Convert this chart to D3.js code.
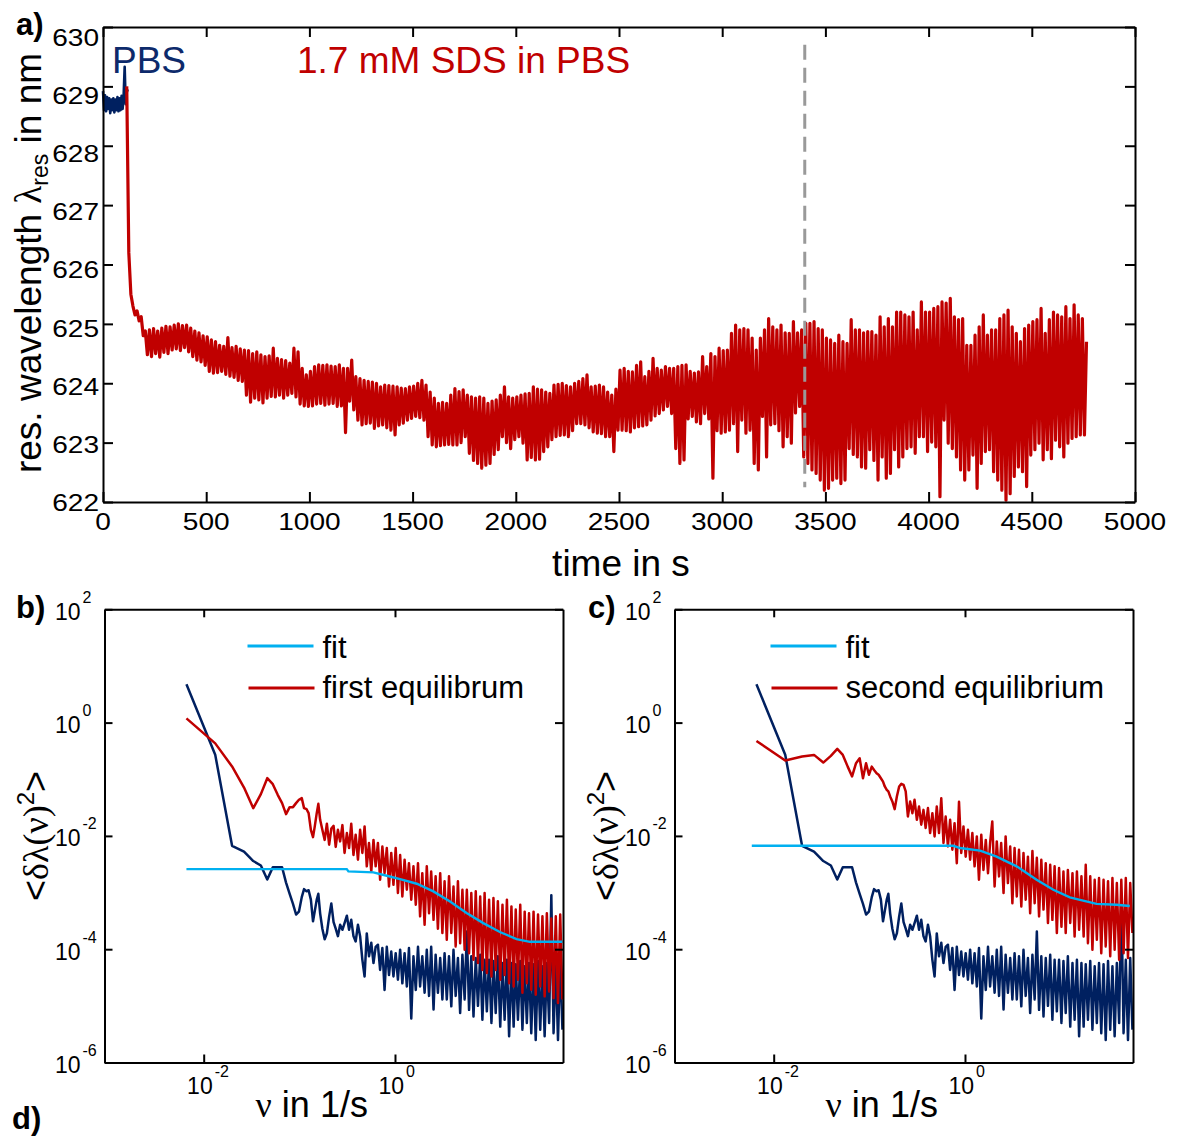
<!DOCTYPE html>
<html>
<head>
<meta charset="utf-8">
<script src="https://cdn.jsdelivr.net/npm/d3@7"></script>
<style>
  body { margin: 0; background: #fff; }
  svg { display: block; font-family: "Liberation Sans", Arial, sans-serif; }
</style>
</head>
<body>
<svg id="fig" width="1177" height="1136"></svg>
<script>
// ---------- (a) resonance wavelength vs time ----------
const timeTicks = [0, 500, 1000, 1500, 2000, 2500, 3000, 3500, 4000, 4500, 5000];
const wlTicks = [622, 623, 624, 625, 626, 627, 628, 629, 630];

// PBS baseline, sampled every 5 s from t = 0 s
const pbsStart = 0, pbsStep = 5;
const pbsShift = [
  628.92, 628.6, 628.85, 628.58, 628.82, 628.62, 628.8, 628.55, 628.78, 628.6,
  628.8, 628.56, 628.78, 628.6, 628.82, 628.58, 628.8, 628.6, 628.84, 628.62,
  628.85, 629.33, 628.7, 628.9, 628.95
];

// 1.7 mM SDS in PBS, sampled every 10 s from t = 115 s
const sdsStart = 115, sdsStep = 10;
const sdsShift = [
  629.0, 626.2, 625.5, 625.3, 625.15, 625.22, 625.05, 625.12, 624.8, 624.88,
  624.48, 624.9, 624.45, 624.92, 624.5, 624.88, 624.44, 624.93, 624.52, 624.96,
  624.5, 624.95, 624.56, 624.98, 624.58, 625.0, 624.55, 624.97, 624.6, 624.98,
  624.53, 624.93, 624.45, 624.88, 624.39, 624.85, 624.36, 624.8, 624.3, 624.78,
  624.2, 624.73, 624.17, 624.7, 624.18, 624.64, 624.2, 624.62, 624.15, 624.77,
  624.12, 624.6, 624.1, 624.62, 624.05, 624.58, 624.03, 624.56, 623.8, 624.55,
  623.68, 624.5, 623.75, 624.53, 623.72, 624.48, 623.67, 624.45, 623.75, 624.46,
  623.78, 624.59, 623.77, 624.42, 623.8, 624.4, 623.75, 624.38, 623.8, 624.34,
  623.83, 624.59, 623.77, 624.53, 623.65, 624.25, 623.62, 624.14, 623.61, 624.2,
  623.62, 624.28, 623.65, 624.31, 623.66, 624.3, 623.63, 624.31, 623.65, 624.29,
  623.66, 624.28, 623.61, 624.31, 623.62, 624.25, 623.17, 624.25, 623.7, 624.39,
  623.55, 624.11, 623.38, 624.08, 623.3, 624.05, 623.32, 624.03, 623.33, 624.02,
  623.24, 624.0, 623.28, 623.94, 623.3, 623.97, 623.25, 623.96, 623.21, 623.95,
  623.13, 623.94, 623.3, 623.92, 623.33, 623.91, 623.38, 623.94, 623.41, 623.95,
  623.44, 624.0, 623.42, 624.05, 623.38, 623.97, 623.1, 623.85, 622.96, 623.75,
  622.93, 623.66, 622.95, 623.68, 622.96, 623.66, 622.97, 623.8, 622.96, 623.91,
  622.96, 623.86, 623.0, 623.89, 623.1, 623.8, 622.82, 623.77, 622.7, 623.75,
  622.65, 623.77, 622.57, 623.75, 622.62, 623.66, 622.65, 623.7, 622.8, 623.72,
  622.88, 623.8, 623.1, 623.94, 623.0, 623.77, 622.9, 623.75, 623.05, 623.77,
  623.1, 623.8, 622.99, 623.82, 622.71, 623.83, 622.75, 623.94, 622.71, 623.9,
  622.72, 623.89, 622.85, 623.85, 622.93, 623.83, 623.05, 623.97, 623.1, 623.98,
  623.12, 624.0, 623.13, 623.96, 623.1, 623.94, 623.2, 624.0, 623.32, 624.03,
  623.32, 624.08, 623.3, 624.14, 623.25, 623.94, 623.18, 623.95, 623.16, 623.97,
  623.15, 623.94, 623.1, 623.85, 623.1, 623.8, 622.85, 623.9, 623.21, 624.22,
  623.21, 624.25, 623.2, 624.2, 623.18, 624.19, 623.25, 624.3, 623.27, 624.36,
  623.28, 624.11, 623.3, 624.2, 623.38, 624.42, 623.45, 624.25, 623.49, 624.22,
  623.55, 624.28, 623.61, 624.25, 623.49, 624.25, 622.9, 624.28, 622.65, 624.3,
  622.71, 624.31, 623.4, 624.2, 623.44, 624.17, 623.35, 624.19, 623.32, 624.45,
  623.49, 624.28, 623.4, 624.5, 622.4, 624.45, 623.2, 624.59, 623.16, 624.55,
  623.18, 624.56, 623.21, 624.84, 623.32, 624.98, 622.85, 624.9, 623.38, 624.92,
  623.16, 624.9, 623.21, 624.76, 622.65, 624.56, 622.54, 624.76, 623.44, 624.9,
  622.76, 625.09, 623.3, 624.95, 623.32, 624.9, 623.2, 624.98, 622.93, 624.85,
  623.1, 624.84, 622.99, 625.04, 623.5, 624.85, 623.61, 624.9, 622.76, 625.01,
  622.65, 625.01, 622.54, 625.04, 622.48, 624.92, 622.37, 624.9, 622.2, 624.76,
  622.23, 624.73, 622.37, 624.67, 622.4, 624.81, 622.31, 624.7, 622.37, 624.67,
  622.9, 625.07, 622.8, 624.9, 622.76, 624.9, 622.59, 624.85, 622.57, 624.87,
  622.88, 624.87, 622.7, 624.81, 622.37, 625.12, 622.76, 624.95, 622.4, 625.09,
  622.48, 624.95, 622.88, 625.2, 622.59, 625.2, 622.76, 625.15, 622.9, 625.12,
  622.93, 625.2, 622.82, 624.9, 623.1, 625.37, 623.1, 625.2, 622.85, 625.2,
  623.01, 625.26, 622.93, 625.29, 622.09, 625.37, 623.38, 625.35, 622.99, 625.43,
  622.9, 625.12, 622.76, 625.07, 622.54, 625.09, 622.37, 624.64, 622.54, 624.64,
  622.79, 624.81, 622.23, 624.95, 622.65, 625.15, 622.85, 624.81, 622.88, 624.9,
  622.51, 624.9, 622.37, 625.09, 622.2, 625.15, 622.03, 625.23, 622.14, 624.95,
  622.43, 624.84, 622.59, 624.7, 622.51, 624.92, 622.26, 624.98, 622.79, 625.04,
  622.88, 625.07, 622.99, 625.26, 622.71, 624.84, 622.88, 625.07, 622.73, 625.2,
  623.04, 625.15, 622.93, 625.12, 622.76, 625.29, 622.99, 625.09, 623.07, 625.32,
  623.1, 625.15, 623.13, 625.09, 623.13, 624.7
];

// second equilibrium starts here (dashed marker)
const markerTime = 3400;
const markerSpan = [629.7, 622.25];

// ---------- (b), (c) spectral density ----------
const nuTicks = [1e-2, 1e0];
const psdTicks = [1e2, 1e0, 1e-2, 1e-4, 1e-6];

// frequency grid in 1/s shared by the spectra
const nu = [
  0.0066, 0.0132, 0.0198, 0.0264, 0.033, 0.0396, 0.0462, 0.0528, 0.0594, 0.066,
  0.0726, 0.0792, 0.0858, 0.0924, 0.099, 0.106, 0.112, 0.119, 0.125, 0.132,
  0.139, 0.145, 0.152, 0.158, 0.165, 0.174, 0.184, 0.194, 0.205, 0.216,
  0.228, 0.24, 0.253, 0.267, 0.282, 0.297, 0.314, 0.331, 0.349, 0.368,
  0.388, 0.41, 0.432, 0.456, 0.481, 0.507, 0.535, 0.565, 0.596, 0.628,
  0.663, 0.699, 0.738, 0.778, 0.821, 0.866, 0.914, 0.964, 1.017, 1.073,
  1.132, 1.194, 1.26, 1.33, 1.40, 1.48, 1.56, 1.65, 1.74, 1.83,
  1.93, 2.04, 2.15, 2.27, 2.39, 2.53, 2.66, 2.81, 2.97, 3.13,
  3.30, 3.48, 3.67, 3.88, 4.09, 4.31, 4.55, 4.80, 5.07, 5.35,
  5.64, 5.95, 6.28, 6.62, 6.99, 7.37, 7.78, 8.20, 8.65, 9.13,
  9.63, 10.2, 10.7, 11.3, 11.9, 12.6, 13.3, 14.0, 14.8, 15.6,
  16.5, 17.4, 18.3, 19.3, 20.4, 21.5, 22.7, 23.9, 25.2, 26.6,
  28.1, 29.6, 31.3, 33.0, 34.8, 36.7, 38.7, 40.9, 43.1, 45.5,
  48.0, 50.6, 53.4, 56.3
];

// PBS reference spectrum (shown in both panels)
const psdPBS = [
  4.75, 0.27, 6.7e-3, 5.3e-3, 3.6e-3, 3.0e-3, 1.7e-3, 2.8e-3, 2.8e-3, 2.8e-3,
  1.5e-3, 9.5e-4, 6.3e-4, 4.1e-4, 4.6e-4, 8.3e-4, 1.15e-3, 1.05e-3, 1.1e-3, 7.5e-4,
  3.1e-4, 4.7e-4, 7.5e-4, 9.5e-4, 4.3e-4, 2.3e-4, 1.5e-4, 1.9e-4, 3.8e-4, 6.4e-4,
  3.0e-4, 2.3e-4, 1.7e-4, 2.7e-4, 2.2e-4, 2.9e-4, 3.9e-4, 2.2e-4, 3.3e-4, 1.7e-4,
  1.37e-4, 2.7e-4, 1.7e-4, 6.5e-5, 3.3e-5, 1.9e-4, 7.5e-5, 1.3e-4, 5.7e-5, 1.1e-4,
  1.2e-4, 4.3e-5, 1.05e-4, 1.9e-5, 1.1e-4, 3.5e-5, 9.1e-5, 3.3e-5, 8.5e-5, 2.9e-5,
  9.8e-5, 2.5e-5, 8.5e-5, 2.2e-5, 1.05e-4, 6.0e-6, 7.5e-5, 1.9e-5, 1.1e-4, 2.2e-5,
  7.5e-5, 1.7e-5, 9.8e-5, 1.5e-5, 1.1e-4, 8.6e-6, 8.0e-5, 1.7e-5, 7.0e-5, 1.3e-5,
  8.5e-5, 1.3e-5, 7.5e-5, 9.8e-6, 9.8e-5, 1.5e-5, 7.0e-5, 7.5e-6, 8.0e-5, 1.3e-5,
  2.06e-4, 8.5e-6, 7.5e-5, 6.5e-6, 7.0e-5, 1.0e-5, 8.0e-5, 5.7e-6, 6.5e-5, 8.0e-6,
  6.5e-5, 5.0e-6, 6.2e-5, 7.5e-6, 7.5e-5, 4.3e-6, 5.7e-5, 5.7e-6, 6.5e-5, 2.9e-6,
  5.7e-5, 4.3e-6, 5.4e-5, 5.7e-6, 6.2e-5, 3.8e-6, 5.0e-5, 5.0e-6, 5.7e-5, 3.3e-6,
  5.4e-5, 2.5e-6, 6.2e-5, 3.8e-6, 5.0e-5, 2.9e-6, 5.7e-5, 5.0e-6, 9.0e-4, 3.3e-6,
  6.5e-5, 2.5e-6, 7.0e-5, 3.8e-6
];

// first equilibrium spectrum
const psdFirst = [
  1.19, 0.43, 0.168, 0.0714, 0.0309, 0.0546, 0.1045, 0.0819, 0.0531, 0.0379,
  0.0242, 0.0322, 0.0322, 0.0379, 0.0434, 0.0464, 0.0309, 0.0296, 0.0252, 0.0128,
  0.0095, 0.0147, 0.0252, 0.0368, 0.0192, 1.28e-2, 8.5e-3, 1.64e-2, 7.0e-3, 1.35e-2,
  1.5e-2, 6.4e-3, 1.28e-2, 8.0e-3, 1.55e-2, 5.0e-3, 1.12e-2, 6.1e-3, 1.64e-2, 4.6e-3,
  1.05e-2, 3.8e-3, 1.28e-2, 5.0e-3, 1.47e-2, 2.9e-3, 7.5e-3, 2.35e-3, 8.5e-3, 2.9e-3,
  7.5e-3, 1.68e-3, 6.5e-3, 2.2e-3, 6.1e-3, 1.28e-3, 5.0e-3, 1.37e-3, 6.1e-3, 9.8e-4,
  4.6e-3, 8.5e-4, 3.8e-3, 1.12e-3, 3.3e-3, 7.5e-4, 2.9e-3, 6.1e-4, 3.3e-3, 3.8e-4,
  2.2e-3, 2.7e-4, 2.9e-3, 4.3e-4, 2.35e-3, 3.3e-4, 1.93e-3, 2.3e-4, 2.2e-3, 1.93e-4,
  1.58e-3, 1.47e-4, 1.93e-3, 1.93e-4, 1.28e-3, 1.12e-4, 1.58e-3, 1.28e-4, 1.12e-3, 9.8e-5,
  1.12e-3, 8.5e-5, 9.8e-4, 6.5e-5, 1.05e-3, 5.7e-5, 8.5e-4, 4.3e-5, 9.8e-4, 3.8e-5,
  7.5e-4, 3.3e-5, 8.0e-4, 4.3e-5, 7.0e-4, 2.9e-5, 6.1e-4, 3.5e-5, 7.5e-4, 2.5e-5,
  5.7e-4, 2.2e-5, 5.0e-4, 2.9e-5, 6.1e-4, 1.7e-5, 4.6e-4, 2.5e-5, 4.3e-4, 1.93e-5,
  4.6e-4, 1.58e-5, 4.1e-4, 2.2e-5, 3.8e-4, 1.47e-5, 4.3e-4, 1.8e-5, 3.5e-4, 1.37e-5,
  3.8e-4, 1.12e-5, 4.1e-4, 1.29e-5
];

// second equilibrium spectrum
const psdSecond = [
  0.475, 0.214, 0.252, 0.269, 0.197, 0.258, 0.343, 0.269, 0.167, 0.112,
  0.192, 0.235, 0.104, 0.192, 0.12, 0.167, 0.146, 0.128, 0.12, 0.104,
  0.091, 0.0745, 0.065, 0.061, 0.0497, 0.0405, 0.0297, 0.0497, 0.0745, 0.0828,
  0.0794, 0.061, 0.022, 0.0405, 0.0252, 0.0434, 0.0192, 0.033, 0.0158, 0.0288,
  1.38e-2, 3.1e-2, 1.12e-2, 2.52e-2, 9.8e-3, 3.3e-2, 1.12e-2, 4.6e-2, 7.5e-3, 2.2e-2,
  6.5e-3, 1.92e-2, 5.7e-3, 1.68e-2, 3.3e-3, 4.0e-2, 5.0e-3, 1.47e-2, 4.3e-3, 1.28e-2,
  3.8e-3, 1.12e-2, 2.9e-3, 9.8e-3, 1.68e-3, 1.05e-2, 2.5e-3, 8.5e-3, 2.2e-3, 7.5e-3,
  1.8e-2, 1.28e-3, 8.0e-3, 1.93e-3, 7.5e-3, 9.8e-4, 9.8e-3, 1.47e-3, 6.5e-3, 6.5e-4,
  6.1e-3, 8.5e-4, 5.7e-3, 5.7e-4, 5.0e-3, 7.5e-4, 4.3e-3, 4.3e-4, 5.4e-3, 6.5e-4,
  4.1e-3, 3.8e-4, 3.8e-3, 5.0e-4, 3.3e-3, 2.9e-4, 3.1e-3, 3.3e-4, 2.9e-3, 1.93e-4,
  2.7e-3, 2.5e-4, 2.35e-3, 1.93e-4, 2.5e-3, 2.9e-4, 2.2e-3, 1.68e-4, 2.35e-3, 2.2e-4,
  1.93e-3, 1.68e-4, 3.1e-3, 1.28e-4, 1.93e-3, 9.8e-5, 1.68e-3, 1.47e-4, 1.8e-3, 8.5e-5,
  1.68e-3, 1.12e-4, 1.58e-3, 7.5e-5, 1.8e-3, 9.8e-5, 1.47e-3, 6.5e-5, 1.68e-3, 8.5e-5,
  1.8e-3, 7.0e-5, 1.47e-3, 1.93e-4
];

// fitted spectra
const fitFirstNu  = [0.0066, 0.313, 0.326, 0.594, 0.82, 1.13, 1.69, 2.52, 3.76, 5.61, 8.38, 12.5, 18.7, 25.7, 56.3];
const fitFirstVal = [2.59e-3, 2.59e-3, 2.36e-3, 2.27e-3, 1.98e-3, 1.73e-3, 1.43e-3, 1.05e-3, 6.98e-4, 4.35e-4, 2.89e-4, 2.01e-4, 1.51e-4, 1.35e-4, 1.35e-4];
const fitSecondNu  = [0.0059, 0.757, 0.888, 1.44, 2.14, 3.47, 5.61, 8.38, 12.5, 17.2, 23.7, 38.4, 52.8];
const fitSecondVal = [6.7e-3, 6.7e-3, 6.1e-3, 5.5e-3, 4.3e-3, 2.9e-3, 1.68e-3, 1.12e-3, 8.2e-4, 7.2e-4, 6.3e-4, 6.1e-4, 5.8e-4];

// ---------- drawing ----------
const RED = "#c00000", NAVY = "#002060", CYAN = "#00b0f0", GREY = "#999999";
const fig = d3.select("#fig");

function styleAxis(g) {
  g.selectAll(".domain").attr("stroke", "#000").attr("stroke-width", 2);
  g.selectAll(".tick line").attr("stroke", "#000").attr("stroke-width", 2);
}

// ----- panel (a) -----
const xA = d3.scaleLinear().domain([0, 5000]).range([103, 1135]);
const yA = d3.scaleLinear().domain([622, 630]).range([502, 27]);
const gA = fig.append("g");

const lineA = d3.line().x(d => xA(d[0])).y(d => yA(d[1]));
const pbsPts = pbsShift.map((v, i) => [pbsStart + i * pbsStep, v]);
const sdsPts = sdsShift.map((v, i) => [sdsStart + i * sdsStep, v]);

gA.append("path").datum(pbsPts).attr("d", lineA)
  .attr("fill", "none").attr("stroke", NAVY).attr("stroke-width", 2.6).attr("stroke-linejoin", "round");
gA.append("path").datum(sdsPts).attr("d", lineA)
  .attr("fill", "none").attr("stroke", RED).attr("stroke-width", 3.2).attr("stroke-linejoin", "round");
gA.append("line")
  .attr("x1", xA(markerTime)).attr("x2", xA(markerTime))
  .attr("y1", yA(markerSpan[0])).attr("y2", yA(markerSpan[1]))
  .attr("stroke", GREY).attr("stroke-width", 3).attr("stroke-dasharray", "15,8");

gA.append("g").attr("transform", "translate(0,502)")
  .call(d3.axisBottom(xA).tickValues(timeTicks).tickSize(-10).tickSizeOuter(0).tickFormat(""))
  .call(styleAxis);
gA.append("g").attr("transform", "translate(0,27)")
  .call(d3.axisTop(xA).tickValues(timeTicks).tickSize(-10).tickSizeOuter(0).tickFormat(""))
  .call(styleAxis);
gA.append("g").attr("transform", "translate(103,0)")
  .call(d3.axisLeft(yA).tickValues(wlTicks).tickSize(-10).tickSizeOuter(0).tickFormat(""))
  .call(styleAxis);
gA.append("g").attr("transform", "translate(1135,0)")
  .call(d3.axisRight(yA).tickValues(wlTicks).tickSize(-10).tickSizeOuter(0).tickFormat(""))
  .call(styleAxis);

gA.selectAll("text.xt").data(timeTicks).enter().append("text")
  .attr("class", "xt")
  .attr("transform", d => `translate(${xA(d)},530) scale(1.17,1)`)
  .attr("text-anchor", "middle").attr("font-size", 24).text(d => d);
gA.selectAll("text.yt").data(wlTicks).enter().append("text")
  .attr("class", "yt")
  .attr("transform", d => `translate(99,${yA(d) + 18.5 - 1.15 * (630 - d)}) scale(1.17,1)`)
  .attr("text-anchor", "end").attr("font-size", 24).text(d => d);

gA.append("text").attr("x", 621).attr("y", 576).attr("text-anchor", "middle")
  .attr("font-size", 37).text("time in s");

const yLabA = gA.append("text").attr("transform", "translate(41,263) rotate(-90)")
  .attr("text-anchor", "middle").attr("font-size", 37);
yLabA.append("tspan").text("res. wavelength  ");
yLabA.append("tspan").attr("font-family", "'Liberation Serif', serif").text("λ");
yLabA.append("tspan").attr("font-size", 23).attr("dy", 7).text("res");
yLabA.append("tspan").attr("dy", -7).text(" in nm");

gA.append("text").attr("x", 112).attr("y", 73).attr("font-size", 37).attr("fill", "#0d2a6b").text("PBS");
gA.append("text").attr("x", 297).attr("y", 73).attr("font-size", 37).attr("fill", RED).text("1.7 mM SDS in PBS");

// ----- panels (b), (c) -----
function spectrumPanel(left, right, fitNu, fitVal, redVals, legendX, legendLabel) {
  const x = d3.scaleLog().domain([0.000918, 57.1]).range([left, right]);
  const y = d3.scaleLog().domain([1e-6, 1e2]).range([1062.5, 609.3]);
  const g = fig.append("g");
  const line = d3.line().x(d => x(d[0])).y(d => y(d[1]));

  g.append("path").datum(nu.map((f, i) => [f, psdPBS[i]])).attr("d", line)
    .attr("fill", "none").attr("stroke", NAVY).attr("stroke-width", 2.5).attr("stroke-linejoin", "round");
  g.append("path").datum(nu.map((f, i) => [f, redVals[i]])).attr("d", line)
    .attr("fill", "none").attr("stroke", RED).attr("stroke-width", 2.5).attr("stroke-linejoin", "round");
  g.append("path").datum(fitNu.map((f, i) => [f, fitVal[i]])).attr("d", line)
    .attr("fill", "none").attr("stroke", CYAN).attr("stroke-width", 2.4);

  g.append("g").attr("transform", "translate(0,1062.5)")
    .call(d3.axisBottom(x).tickValues(nuTicks).tickSize(-8).tickSizeOuter(0).tickFormat(""))
    .call(styleAxis);
  g.append("g").attr("transform", "translate(0,609.3)")
    .call(d3.axisTop(x).tickValues(nuTicks).tickSize(-8).tickSizeOuter(0).tickFormat(""))
    .call(styleAxis);
  g.append("g").attr("transform", `translate(${left},0)`)
    .call(d3.axisLeft(y).tickValues(psdTicks).tickSize(-8).tickSizeOuter(0).tickFormat(""))
    .call(styleAxis);
  g.append("g").attr("transform", `translate(${right},0)`)
    .call(d3.axisRight(y).tickValues(psdTicks).tickSize(-8).tickSizeOuter(0).tickFormat(""))
    .call(styleAxis);

  // power-of-ten tick labels
  psdTicks.forEach(v => {
    const e = Math.round(Math.log10(v));
    g.append("text").attr("x", left - 24).attr("y", y(v) + 10.5)
      .attr("text-anchor", "end").attr("font-size", 23).text("10");
    g.append("text").attr("x", left - 22).attr("y", y(v) - 6.5)
      .attr("font-size", 16).text(e);
  });
  nuTicks.forEach(v => {
    const e = Math.round(Math.log10(v));
    g.append("text").attr("x", x(v) + 9).attr("y", 1094)
      .attr("text-anchor", "end").attr("font-size", 23).text("10");
    g.append("text").attr("x", x(v) + 11).attr("y", 1077)
      .attr("font-size", 16).text(e);
  });

  // axis titles
  const xl = g.append("text").attr("x", (left + right) / 2 - 22).attr("y", 1117)
    .attr("text-anchor", "middle").attr("font-size", 36);
  xl.append("tspan").attr("font-family", "'Liberation Serif', serif").text("ν");
  xl.append("tspan").text(" in 1/s");

  const yl = g.append("text").attr("transform", `translate(${left - 57},${(609.3 + 1062.5) / 2}) rotate(-90)`)
    .attr("text-anchor", "middle").attr("font-size", 36);
  yl.append("tspan").text("<");
  yl.append("tspan").attr("font-family", "'Liberation Serif', serif").text("δλ(ν)");
  yl.append("tspan").attr("font-size", 24).attr("dy", -14).text("2");
  yl.append("tspan").attr("dy", 14).text(">");

  // legend
  g.append("line").attr("x1", legendX).attr("x2", legendX + 66).attr("y1", 646).attr("y2", 646)
    .attr("stroke", CYAN).attr("stroke-width", 3);
  g.append("text").attr("x", legendX + 75).attr("y", 658).attr("font-size", 31).text("fit");
  g.append("line").attr("x1", legendX + 1).attr("x2", legendX + 67).attr("y1", 688).attr("y2", 688)
    .attr("stroke", RED).attr("stroke-width", 3);
  g.append("text").attr("x", legendX + 75).attr("y", 698).attr("font-size", 31).text(legendLabel);
}

spectrumPanel(104.5, 563, fitFirstNu, fitFirstVal, psdFirst, 247.5, "first equilibrum");
spectrumPanel(674.5, 1133, fitSecondNu, fitSecondVal, psdSecond, 770.5, "second equilibrium");

// panel letters
[["a)", 16, 35], ["b)", 16, 618], ["c)", 588, 618], ["d)", 12, 1129]].forEach(([t, x, y]) => {
  fig.append("text").attr("x", x).attr("y", y).attr("font-size", 31)
    .attr("font-weight", "bold").text(t);
});
</script>
</body>
</html>
